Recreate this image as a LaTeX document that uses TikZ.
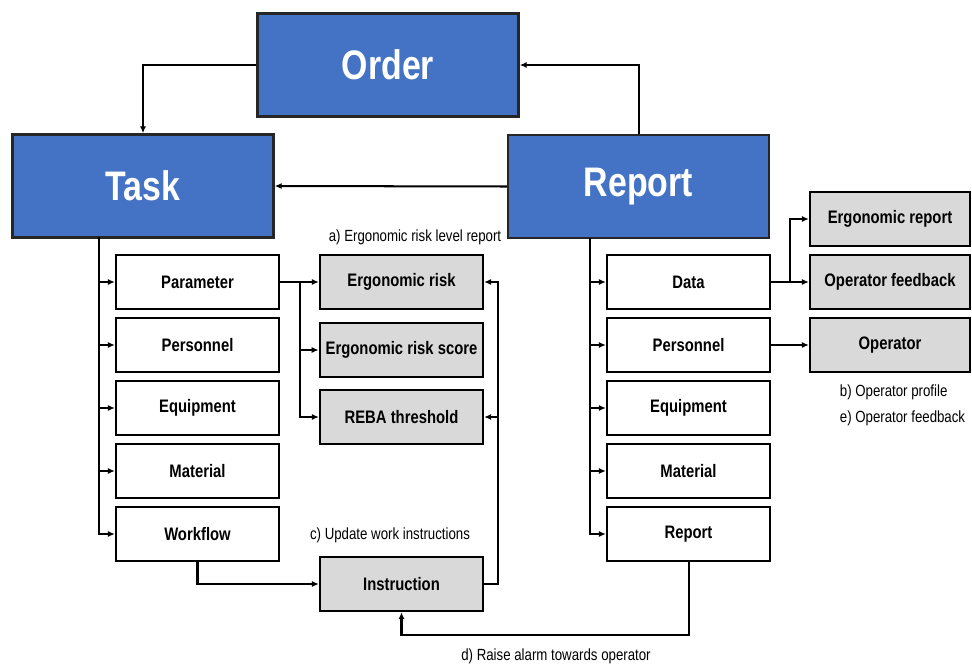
\documentclass[tikz,border=0pt]{standalone}
\usepackage{fontspec}
\newfontfamily\narrowfont{Liberation Sans}[FakeStretch=0.82]
\usetikzlibrary{arrows.meta}
\definecolor{orderblue}{RGB}{68,114,196}
\definecolor{boxgray}{RGB}{217,217,217}

\begin{document}
\begin{tikzpicture}
	[%
	x=0.02cm, y=-0.02cm, line width=1.15pt, >={Latex[length=4pt,width=3.5pt]},%
	headbox/.style={rectangle,	draw=black!85,	fill=orderblue,	line width=1.4pt,	minimum width=5.22cm,	minimum height=2.06cm,	text=white,	font=\narrowfont\bfseries\fontsize{23.5}{26}\selectfont},%
	entry/.style  ={rectangle,	draw=black,		fill=white,		line width=1.3pt,	minimum width=3.26cm,	minimum height=1.08cm,	font=\narrowfont\bfseries\fontsize{10.3}{12}\selectfont},%
	gentry/.style ={entry,		fill=boxgray},%
	remark/.style ={font=\narrowfont\fontsize{9.2}{11}\selectfont},%
	]

	\newcommand\leftcol{197.5}
	\newcommand{\rightcol}{688.5}

	\useasboundingbox (0,0) rectangle (972,666);

	% main blocks
	\node (order)  at (388,65)      [headbox] {Order};
	\node (task)   at (143,186)     [headbox] {Task};
	\node (report) at (638.5,186.5) [headbox] {Report};

	% task and report entries
	\foreach \name/\txt [count=\i from 0] in {param/Parameter, lpers/Personnel, lequip/Equipment, lmat/Material, flow/Workflow}
		\node (\name) at (\leftcol,282+63*\i) [entry] {\txt};

	\foreach \name/\txt [count=\i from 0] in {data/Data, rpers/Personnel, requip/Equipment, rmat/Material, rrep/Report}
		\node (\name) at (\rightcol,282+63*\i) [entry] {\txt};

	% gray outputs
	\node (risk)   at (401.5,282) [gentry] {Ergonomic risk};
	\node (score)  at (401.5,350) [gentry] {Ergonomic risk score};
	\node (reba)   at (401.5,417) [gentry] {REBA threshold};
	\node (instr)  at (401.5,584) [gentry] {Instruction};

	\node (ergrep) at (890,219) [gentry, minimum width=3.2cm] {Ergonomic report};
	\node (opfb)   at (890,282) [gentry, minimum width=3.2cm] {Operator feedback};
	\node (oper)   at (890,345) [gentry, minimum width=3.2cm] {Operator};

	% labels
	\node (laba) at (415,237) [remark] {a) Ergonomic risk level report};
	\node (labb) at (833,392) [remark, anchor=west] {b) Operator profile};
	\node (labe) at (833,418) [remark, anchor=west] {e) Operator feedback};
	\node (labc) at (390,535) [remark] {c) Update work instructions};
	\node (labd) at (556,656) [remark] {d) Raise alarm towards operator};

	\coordinate (ltrunk) at (99,237);
	\coordinate (rtrunk) at (590,238);
	\coordinate (split)  at (300,282);
	\coordinate (dsplit) at (790,282);
	\coordinate (back)   at (498,584);
	\coordinate (alarm)  at (\rightcol,635);

	% interconnections
	\draw [->] (order.west) -| (task.north);
	\draw [->] (report.north) |- (order.east);
	\draw [->] (report.west) -- (task.east);

	\foreach \name in {param,lpers,lequip,lmat,flow} \draw [->] (ltrunk) |- (\name.west);
	\foreach \name in {data,rpers,requip,rmat,rrep} \draw [->] (rtrunk) |- (\name.west);

	\draw [->] (param.east) -- (risk.west);
	\draw [->] (split) |- (score.west);
	\draw [->] (split) |- (reba.west);

	\draw [->] (instr.east) -- (back) |- (risk.east);
	\draw [->] (back) |- (reba.east);
	\draw [->] (flow.south) |- (instr.west);
	\draw [->] (rrep.south) -- (alarm) -| (instr.south);

	\draw [->] (data.east) -- (opfb.west);
	\draw [->] (dsplit) |- (ergrep.west);
	\draw [->] (rpers.east) -- (oper.west);

\end{tikzpicture}
\end{document}
